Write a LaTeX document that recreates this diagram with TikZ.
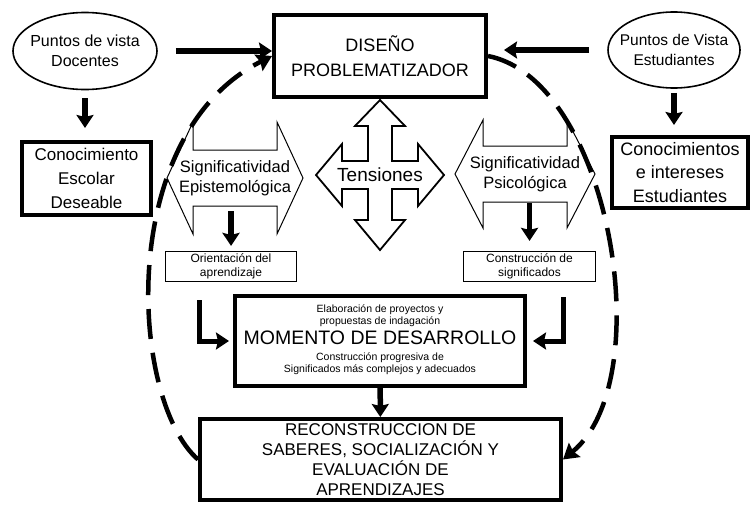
\documentclass[tikz,border=0pt]{standalone}
\usepackage{fontspec}
\setmainfont{Liberation Sans}
\usetikzlibrary{arrows.meta, positioning, shapes.geometric, calc}
\newcommand{\fsz}[2]{\fontsize{#1}{#2}\selectfont}

\begin{document}
\begin{tikzpicture}[
    x=1pt, y=-1pt,
    box/.style={rectangle, draw=black, line width=4pt, align=center, inner sep=2pt},
    viewpoint/.style={ellipse, draw=black, line width=1.6pt, align=center,
      inner xsep=-8pt, inner ysep=0pt},
    notebox/.style={rectangle, draw=black, line width=1.2pt, align=center, inner sep=1pt},
    bigarrow/.style={draw=black, line width=1pt, line join=miter},
    crossarrow/.style={draw=black, line width=1.8pt, line join=miter},
    arrow/.style={-{Stealth[length=13pt, width=17pt, inset=2pt]}, line width=5.5pt},
    looparrow/.style={-{Stealth[length=15pt, width=18pt, inset=2pt]}, line width=4.5pt,
      dash pattern=on 30pt off 14pt},
  ]
  \useasboundingbox (0,0) rectangle (751,506);

  % top row
  \node[viewpoint, minimum width=144pt, minimum height=77pt, font=\fsz{16}{20}] (docview) at (85,51) {Puntos de vista\\Docentes};
  \node[viewpoint, minimum width=132pt, minimum height=76pt, font=\fsz{15.5}{20}] (estview) at (674,50) {Puntos de Vista\\Estudiantes};
  \node[box, minimum width=212pt, minimum height=82pt, font=\fsz{18}{25}] (design) at (380,56) {DISEÑO\\PROBLEMATIZADOR};

  % side boxes
  \node[box, minimum width=129pt, minimum height=73pt, font=\fsz{17}{24}] (school) at (86.5,178.5) {Conocimiento\\Escolar\\Deseable};
  \node[box, minimum width=136pt, minimum height=71pt, font=\fsz{18}{23.5}] (interest) at (680,172.5) {Conocimientos\\e intereses\\Estudiantes};

  % big hollow arrows
  \coordinate (epis) at (235,178);
  \coordinate (psych) at (525,174);
  \coordinate (tens) at (380,175);
  \draw[bigarrow, shift={(epis)}] (-68,0) -- (-42,-56) -- (-42,-28) -- (42,-28) -- (42,-56) -- (68,0)
    -- (42,56) -- (42,28) -- (-42,28) -- (-42,56) -- cycle;
  \draw[bigarrow, shift={(psych)}] (-70,0) -- (-42,-54) -- (-42,-28) -- (42,-28) -- (42,-54) -- (70,0)
    -- (42,54) -- (42,28) -- (-42,28) -- (-42,54) -- cycle;
  \draw[crossarrow, shift={(tens)}] (64,0) -- (38,-31) -- (38,-14) -- (12,-14) -- (12,-49) -- (25,-49)
    -- (0,-75) -- (-25,-49) -- (-12,-49) -- (-12,-14) -- (-38,-14) -- (-38,-31) -- (-64,0)
    -- (-38,31) -- (-38,14) -- (-12,14) -- (-12,45) -- (-25,45) -- (0,75) -- (25,45) -- (12,45)
    -- (12,14) -- (38,14) -- (38,31) -- cycle;
  \node[align=center, font=\fsz{16.5}{20}] (epistext) at (epis) {Significatividad\\Epistemológica};
  \node[align=center, font=\fsz{16.5}{20}] (psychtext) at (psych) {Significatividad\\Psicológica};
  \node[font=\fsz{19}{22}] (tenstext) at (tens) {Tensiones};

  % small notes
  \node[notebox, minimum width=131pt, minimum height=30pt, font=\fsz{12}{13.5}] (orient) at (231,266.5) {Orientación del\\aprendizaje};
  \node[notebox, minimum width=132pt, minimum height=30pt, font=\fsz{12}{13.5}] (meaning) at (529.5,266.5) {Construcción de\\significados};

  % development and reconstruction
  \node[box, minimum width=290pt, minimum height=90pt, font=\fsz{19.5}{24}] (develop) at (380,341) {};
  \node[font=\fsz{19.5}{24}] (developtitle) at (380,338) {MOMENTO DE DESARROLLO};
  \node[align=center, font=\fsz{10.5}{12}] (developtop) at (380,316) {Elaboración de proyectos y\\propuestas de indagación};
  \node[align=center, font=\fsz{10.5}{12}] (developbot) at (380,364) {Construcción progresiva de\\Significados más complejos y adecuados};
  \node[box, minimum width=361pt, minimum height=81pt, font=\fsz{17}{20}] (recon) at (380.5,459.5) {RECONSTRUCCION DE\\SABERES, SOCIALIZACIÓN Y\\EVALUACIÓN DE\\APRENDIZAJES};

  \coordinate (leftin) at (199,300);
  \coordinate (rightin) at (563,297);

  % connectors
  \draw[arrow, shorten <=18pt] (docview.east) -- (docview.east -| design.west);
  \draw[arrow, shorten <=18pt, shorten >=16pt] (estview.west) -- (estview.west -| design.east);
  \draw[arrow, shorten <=8pt, shorten >=12pt] (docview.south) -- (docview.south |- school.north);
  \draw[arrow, shorten <=4pt, shorten >=10pt] (estview.south) -- (estview.south |- interest.north);
  \draw[arrow, shorten <=12pt, shorten >=5pt] (epistext.south -| orient.north) -- (orient.north);
  \draw[arrow, shorten <=8pt, shorten >=10pt] (psychtext.south -| meaning.north) -- (meaning.north);
  \draw[arrow, line width=5pt, shorten >=4pt] (leftin) |- (develop.west);
  \draw[arrow, line width=5pt, shorten >=6pt] (rightin) |- (develop.east);
  \draw[arrow] (develop) -- (recon);

  % dashed cycle
  \draw[looparrow] (recon.west) .. controls (130,400) and (115,135) .. (design.west);
  \draw[looparrow] (design.east) .. controls (610,80) and (660,380) .. (recon.east);
\end{tikzpicture}
\end{document}
